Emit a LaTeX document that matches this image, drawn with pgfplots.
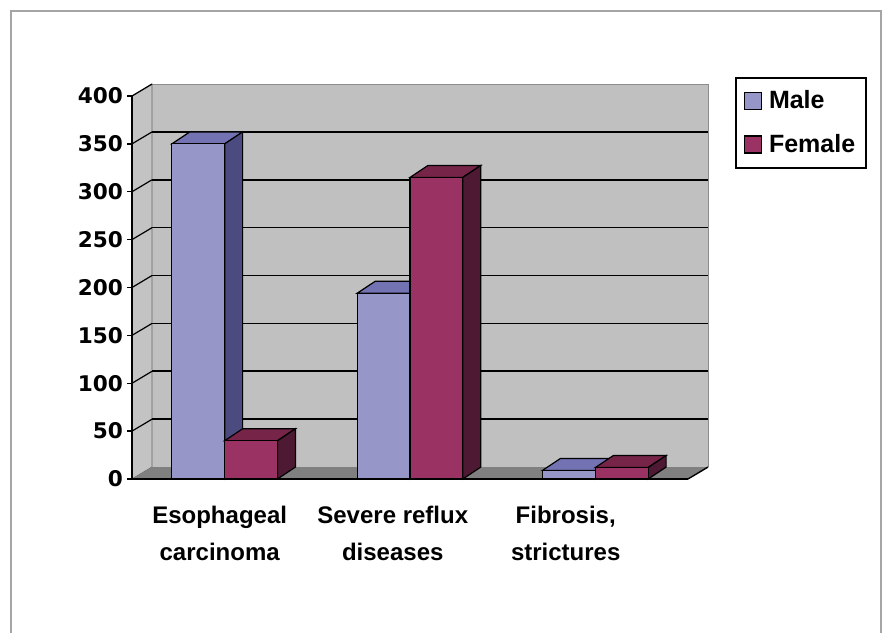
\documentclass[border=0pt]{standalone}
\usepackage{pgfplots}
\pgfplotsset{compat=1.18}
\usepackage{pgfplotstable}
\usepackage{fontspec}
\setmainfont{Liberation Sans}
\newfontfamily\dejavu{DejaVu Sans}
\definecolor{wall}{RGB}{192,192,192}
\definecolor{floorc}{RGB}{128,128,128}
\definecolor{mfront}{RGB}{150,150,200}
\definecolor{mtop}{RGB}{115,115,180}
\definecolor{mside}{RGB}{75,75,128}
\definecolor{ffront}{RGB}{154,51,100}
\definecolor{ftop}{RGB}{118,37,72}
\definecolor{fside}{RGB}{78,25,51}
\definecolor{frame}{RGB}{165,165,165}
\pgfplotstableread{
x male female
0 350 40
1 194 315
2 9 12
}\data
\begin{document}
\begin{tikzpicture}
\useasboundingbox (0,0) rectangle (443pt,316pt);
\fill[white] (0,0) rectangle (443pt,316pt);
\draw[frame, line width=1pt] (5.5pt,-5pt) -- (5.5pt,310.5pt) -- (440.5pt,310.5pt) -- (440.5pt,-5pt);
\begin{axis}[
  at={(66pt,76.5pt)}, anchor=south west,
  scale only axis, width=278pt, height=191.5pt,
  xmin=-0.5, xmax=2.5, ymin=0, ymax=400,
  clip=false, axis on top=true,
  axis x line*=bottom, axis y line*=left,
  axis line style={black, line width=0.7pt},
  tick align=outside, major tick length=2.5pt,
  tick style={black, line width=0.7pt},
  ytick={0,50,...,400},
  /pgf/number format/assume math mode=true,
  yticklabel style={font=\dejavu\bfseries\fontsize{10.8}{12}\selectfont, xshift=1.5pt},
  xtick={-0.027,0.907,1.84},
  xticklabels={Esophageal\\carcinoma, Severe reflux\\diseases, {Fibrosis,\\strictures}},
  xticklabel style={align=center, font=\bfseries\fontsize{12}{18.5}\selectfont, yshift=-7.5pt},
  x tick style={draw=none},
  extra x ticks={0.44,1.37,2.5},
  extra x tick labels={},
  extra x tick style={tick style={black, line width=0.7pt}, major tick length=3pt},
  legend style={at={(1.0845,1.0496)}, anchor=north west, draw=black, line width=0.8pt,
    font=\bfseries\fontsize{12.5}{15}\selectfont, inner xsep=4pt, inner ysep=5pt,
    row sep=8pt, fill=white, nodes={inner sep=1.5pt},
    /tikz/every odd column/.append style={column sep=2pt}},
  legend cell align=left,
  legend image code/.code={\draw[#1, line width=0.6pt] (0pt,-4.25pt) rectangle (8.5pt,4.25pt);},
]
% walls and floor
\fill[wall] (axis cs:-0.392,12.5) rectangle (axis cs:2.608,412.5);
\fill[wall!95!white, draw=black!60, line width=0.4pt] (axis cs:-0.5,0) -- (axis cs:-0.392,12.5) -- (axis cs:-0.392,412.5) -- (axis cs:-0.5,400) -- cycle;
\draw[black!45, line width=0.5pt] (axis cs:-0.392,412.5) -- (axis cs:2.608,412.5) -- (axis cs:2.608,12.5);
\fill[floorc] (axis cs:-0.5,0) -- (axis cs:2.5,0) -- (axis cs:2.608,12.5) -- (axis cs:-0.392,12.5) -- cycle;
\draw[black, line width=0.7pt] (axis cs:2.5,0) -- (axis cs:2.608,12.5);
% grid lines on the back wall and side wall
\draw[black, line width=0.8pt] (axis cs:-0.392,62.5) -- (axis cs:2.608,62.5);
\draw[black, line width=0.8pt] (axis cs:-0.392,112.5) -- (axis cs:2.608,112.5);
\draw[black, line width=0.8pt] (axis cs:-0.392,162.5) -- (axis cs:2.608,162.5);
\draw[black, line width=0.8pt] (axis cs:-0.392,212.5) -- (axis cs:2.608,212.5);
\draw[black, line width=0.8pt] (axis cs:-0.392,262.5) -- (axis cs:2.608,262.5);
\draw[black, line width=0.8pt] (axis cs:-0.392,312.5) -- (axis cs:2.608,312.5);
\draw[black, line width=0.8pt] (axis cs:-0.392,362.5) -- (axis cs:2.608,362.5);
\draw[black, line width=0.6pt] (axis cs:-0.5,50) -- (axis cs:-0.392,62.5);
\draw[black, line width=0.6pt] (axis cs:-0.5,100) -- (axis cs:-0.392,112.5);
\draw[black, line width=0.6pt] (axis cs:-0.5,150) -- (axis cs:-0.392,162.5);
\draw[black, line width=0.6pt] (axis cs:-0.5,200) -- (axis cs:-0.392,212.5);
\draw[black, line width=0.6pt] (axis cs:-0.5,250) -- (axis cs:-0.392,262.5);
\draw[black, line width=0.6pt] (axis cs:-0.5,300) -- (axis cs:-0.392,312.5);
\draw[black, line width=0.6pt] (axis cs:-0.5,350) -- (axis cs:-0.392,362.5);
\draw[black, line width=0.6pt] (axis cs:-0.5,400) -- (axis cs:-0.392,412.5);
% male: top and side faces
\addplot[fill=mtop, draw=black, line width=0.6pt, forget plot] coordinates {(-0.285,350) (-0.188,362.5) (0.097,362.5) (0,350)} -- cycle;
\addplot[fill=mside, draw=black, line width=0.6pt, forget plot] coordinates {(0,0) (0.097,12.5) (0.097,362.5) (0,350)} -- cycle;
\addplot[fill=mtop, draw=black, line width=0.6pt, forget plot] coordinates {(0.715,194) (0.812,206.5) (1.097,206.5) (1,194)} -- cycle;
\addplot[fill=mside, draw=black, line width=0.6pt, forget plot] coordinates {(1,0) (1.097,12.5) (1.097,206.5) (1,194)} -- cycle;
\addplot[fill=mtop, draw=black, line width=0.6pt, forget plot] coordinates {(1.715,9) (1.812,21.5) (2.097,21.5) (2,9)} -- cycle;
\addplot[fill=mside, draw=black, line width=0.6pt, forget plot] coordinates {(2,0) (2.097,12.5) (2.097,21.5) (2,9)} -- cycle;
% male front
\addplot[ybar, bar width=0.285, bar shift=-0.1425, fill=mfront, draw=black, line width=0.6pt] table[x=x, y=male] {\data};
\addlegendentry{Male}
% female: top and side faces
\addplot[fill=ftop, draw=black, line width=0.6pt, forget plot] coordinates {(0,40) (0.097,52.5) (0.382,52.5) (0.285,40)} -- cycle;
\addplot[fill=fside, draw=black, line width=0.6pt, forget plot] coordinates {(0.285,0) (0.382,12.5) (0.382,52.5) (0.285,40)} -- cycle;
\addplot[fill=ftop, draw=black, line width=0.6pt, forget plot] coordinates {(1,315) (1.097,327.5) (1.382,327.5) (1.285,315)} -- cycle;
\addplot[fill=fside, draw=black, line width=0.6pt, forget plot] coordinates {(1.285,0) (1.382,12.5) (1.382,327.5) (1.285,315)} -- cycle;
\addplot[fill=ftop, draw=black, line width=0.6pt, forget plot] coordinates {(2,12) (2.097,24.5) (2.382,24.5) (2.285,12)} -- cycle;
\addplot[fill=fside, draw=black, line width=0.6pt, forget plot] coordinates {(2.285,0) (2.382,12.5) (2.382,24.5) (2.285,12)} -- cycle;
% female front
\addplot[ybar, bar width=0.285, bar shift=0.1425, fill=ffront, draw=black, line width=0.6pt] table[x=x, y=female] {\data};
\addlegendentry{Female}
\end{axis}
\end{tikzpicture}
\end{document}
